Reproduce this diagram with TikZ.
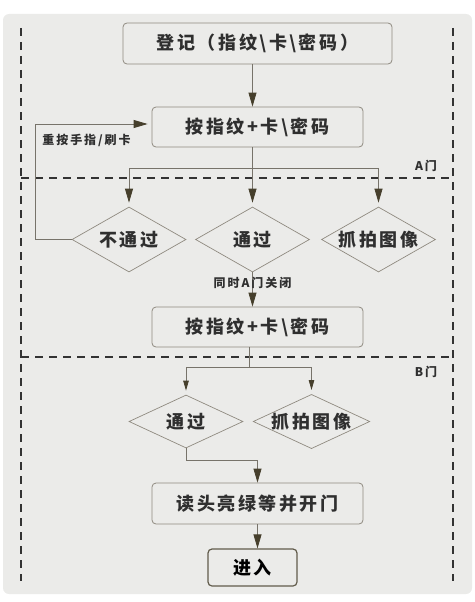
\documentclass[tikz,border=0pt]{standalone}
\usepackage{fontspec}
\usepackage{xcolor}
\usetikzlibrary{shapes.geometric,arrows.meta}
\setmainfont{Noto Sans CJK SC}
\newfontfamily\cjk{Noto Sans CJK SC}
\newcommand\bigcjk{\cjk\bfseries\fontsize{18}{20}\selectfont\addfontfeatures{LetterSpace=14}}
\newcommand\smallcjk{\cjk\bfseries\fontsize{12}{14}\selectfont\addfontfeatures{LetterSpace=16}}
\definecolor{bggray}{HTML}{EBEBE9}
\definecolor{boxline}{HTML}{8F8A80}
\definecolor{flowline}{HTML}{77736A}
\definecolor{tipcol}{HTML}{463F2C}
\definecolor{txtcol}{HTML}{2F2F2F}

\begin{document}
\begin{tikzpicture}[x=1pt,y=-1pt,
  stepbox/.style={draw=boxline,line width=0.8pt,rounded corners=4pt,inner sep=0pt,
    minimum width=211pt,minimum height=40pt,font=\bigcjk,text=txtcol},
  choice/.style={draw=boxline,line width=0.7pt,diamond,inner sep=0pt,
    minimum width=114pt,font=\bigcjk,text=txtcol},
  note/.style={font=\smallcjk,text=txtcol,inner sep=1pt},
  gate/.style={draw=black!80,line width=1.3pt,dash pattern=on 8pt off 6pt},
  arr/.style={draw=flowline,line width=0.8pt,-{Triangle[length=14pt,width=8pt,fill=tipcol,color=tipcol]}},
  arrs/.style={draw=flowline,line width=0.8pt,-{Triangle[length=10pt,width=5.5pt,fill=tipcol,color=tipcol]}}]

  \useasboundingbox (0,0) rectangle (474,602);
  \fill[bggray,rounded corners=6pt] (3,14) rectangle (472,594);

  \draw[gate] (21,28) -- (21,581);
  \draw[gate] (453,28) -- (453,581);
  \draw[gate] (21,178) -- (453,178);
  \draw[gate] (21,357) -- (453,357);

  \node[stepbox,minimum width=269pt,minimum height=41pt] (reg) at (257.5,43.5) {登记（指纹\textbackslash 卡\textbackslash 密码）};
  \node[stepbox] (pressA) at (257.5,127) {按指纹+卡\textbackslash 密码};

  \foreach \x/\name/\txt in {129/rejA/不通过, 252.5/passA/通过, 378.5/snapA/抓拍图像}{
    \node[choice,minimum height=65pt,aspect=1.75] (\name) at (\x,239.5) {\txt}; }

  \node[stepbox] (pressB) at (257.5,327) {按指纹+卡\textbackslash 密码};

  \foreach \x/\name/\txt in {186/passB/通过, 311.5/snapB/抓拍图像}{
    \node[choice,minimum height=53pt,aspect=2.15] (\name) at (\x,421.5) {\txt}; }

  \node[stepbox,minimum height=41pt] (openB) at (257.5,503.5) {读头亮绿等并开门};
  \node[stepbox,draw=tipcol!85,line width=1.2pt,minimum width=89pt,minimum height=37pt,text=black] (enter) at (252.5,567.5) {进入};

  \node[note] (retry) at (86.5,140) {重按手指/刷卡};
  \node[note] (doorA) at (426,166) {A门};
  \node[note] (doorB) at (426,372) {B门};

  \coordinate (splitA) at (252.5,168);
  \coordinate (splitB) at (249,367);

  \draw[arr] (passA.north |- reg.south) -- (passA.north |- pressA.north);
  \draw[arr] (passA.north |- pressA.south) -- ([yshift=4pt]passA.north);
  \draw[arr] (splitA) -| ([yshift=4pt]rejA.north);
  \draw[arr] (splitA) -| ([yshift=4pt]snapA.north);
  \draw[arr,shorten >=4pt] (rejA.west) -- ++(-36,0) |- ([yshift=3pt]pressA.west);
  \draw[arr] (passA.south) -- node[note,pos=0.3] (closeA) {同时A门关闭} (pressB.north -| passA.south);

  \draw[flowline,line width=0.8pt] (splitB -| pressB.south) ++(-8.5,-20) -- (splitB);
  \draw[arrs] (splitB) -| ([yshift=4pt]passB.north);
  \draw[arrs] (splitB) -| ([yshift=4pt]snapB.north);
  \draw[arr] (passB.south) -- ++(0,12) -| (openB.north);
  \draw[arr] (openB.south) -- (openB.south |- enter.north);

\end{tikzpicture}
\end{document}
